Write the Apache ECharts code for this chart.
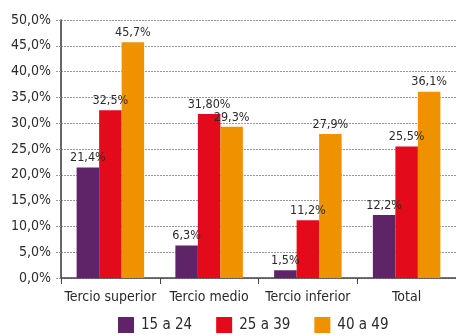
<!DOCTYPE html>
<html>
<head>
<meta charset="utf-8">
<script src="https://cdn.jsdelivr.net/npm/echarts@6/dist/echarts.min.js"></script>
<style>
  html, body { margin: 0; padding: 0; background: #fff; }
  #chart { width: 456px; height: 335px; }
</style>
</head>
<body>
<div id="chart"></div>
<script>
// Categories and series values (percent)
const categories = ['Tercio superior', 'Tercio medio', 'Tercio inferior', 'Total'];
const seriesNames = ['15 a 24', '25 a 39', '40 a 49'];
const values15a24 = [21.4, 6.3, 1.5, 12.2];
const values25a39 = [32.5, 31.8, 11.2, 25.5];
const values40a49 = [45.7, 29.3, 27.9, 36.1];
// Decimals shown in each value label
const digits15a24 = [1, 1, 1, 1];
const digits25a39 = [1, 2, 1, 1];
const digits40a49 = [1, 1, 1, 1];
const yTicks = [0, 5, 10, 15, 20, 25, 30, 35, 40, 45, 50];

const colors = ['#5f2467', '#e30b1b', '#f09100'];
const FONT = "'DejaVu Sans Condensed', 'Liberation Sans Narrow', sans-serif";
const TEXT = '#2b2b2b';

function fmt(v, d) {
  return v.toFixed(d).replace('.', ',') + '%';
}

function makeSeries(name, data, digits, color) {
  return {
    name: name,
    type: 'bar',
    data: data,
    barWidth: 22.5,
    barGap: '0%',
    itemStyle: { color: color },
    label: {
      show: true,
      position: 'top',
      distance: 3,
      fontFamily: FONT,
      fontSize: 12.5,
      color: TEXT,
      formatter: p => fmt(p.value, digits[p.dataIndex])
    }
  };
}

const chart = echarts.init(document.getElementById('chart'), null, { renderer: 'canvas' });
chart.setOption({
  animation: false,
  textStyle: { fontFamily: FONT },
  grid: { left: 61, top: 20, bottom: 57, width: 400 },
  legend: {
    data: seriesNames,
    top: 312,
    left: 113,
    icon: 'rect',
    itemWidth: 16,
    itemHeight: 16,
    itemGap: 24,
    textStyle: { fontFamily: FONT, fontSize: 15, color: TEXT, padding: [0, 0, 0, 2] }
  },
  xAxis: {
    type: 'category',
    data: categories,
    axisLine: { lineStyle: { color: '#444', width: 1.5 } },
    axisTick: { show: true, length: 6, lineStyle: { color: '#444' } },
    axisLabel: { interval: 0, fontFamily: FONT, fontSize: 14, color: TEXT, margin: 12 }
  },
  yAxis: {
    type: 'value',
    min: yTicks[0],
    max: yTicks[yTicks.length - 1],
    interval: 5,
    axisLine: { show: true, lineStyle: { color: '#333', width: 1.5 } },
    axisTick: { show: true, length: 6, lineStyle: { color: '#999', type: [2, 1] } },
    splitLine: { show: true, lineStyle: { color: '#999', type: [2, 1], width: 1 } },
    axisLabel: {
      fontFamily: FONT,
      fontSize: 14,
      color: TEXT,
      margin: 10,
      formatter: v => v.toFixed(1).replace('.', ',') + '%'
    }
  },
  series: [
    makeSeries(seriesNames[0], values15a24, digits15a24, colors[0]),
    makeSeries(seriesNames[1], values25a39, digits25a39, colors[1]),
    makeSeries(seriesNames[2], values40a49, digits40a49, colors[2])
  ]
});
</script>
</body>
</html>
